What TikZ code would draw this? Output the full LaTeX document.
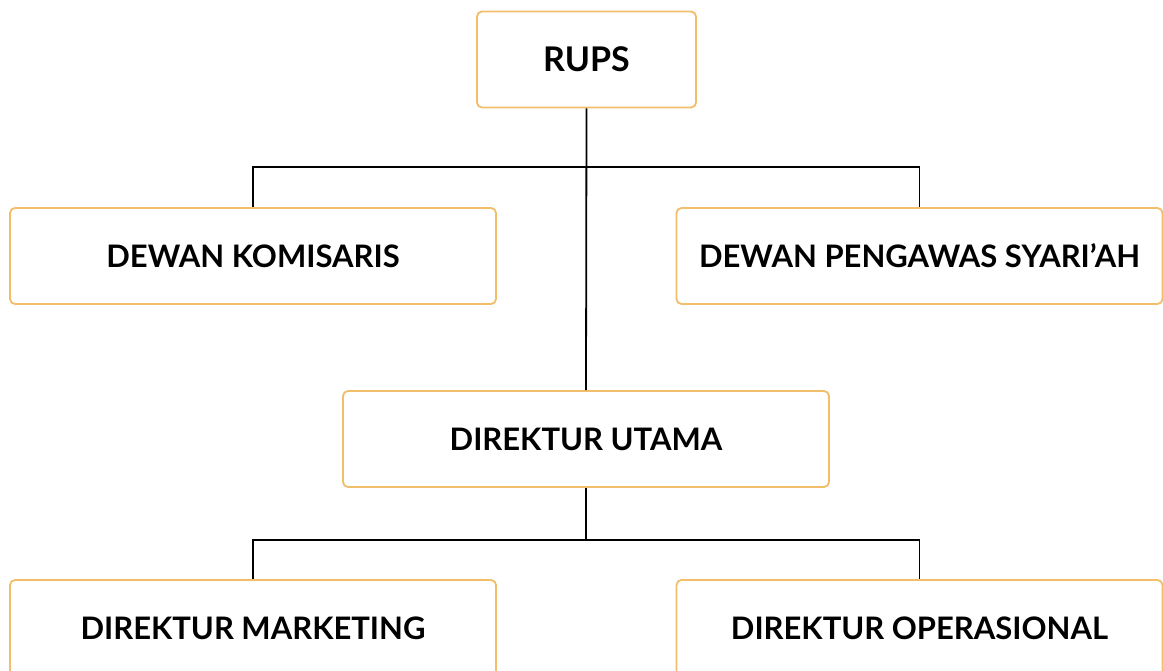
\documentclass[tikz,border=0pt]{standalone}
\usepackage{fontspec}
\setmainfont{Lato}
\usetikzlibrary{positioning}
\definecolor{boxorange}{HTML}{F2BE6A}

\begin{document}
\begin{tikzpicture}[x=1pt, y=-1pt,
    orgbox/.style={draw=boxorange, line width=1.8pt, rounded corners=5pt, fill=white,
      minimum height=96pt, inner sep=0pt, font=\fontsize{31}{36}\selectfont\bfseries},
    wide/.style={orgbox, minimum width=486pt},
    link/.style={draw=black, line width=1.8pt}]

      \clip (0,0) rectangle (1163,671);
      \fill[white] (0,0) rectangle (1163,671);

      % boxes
      \node[orgbox, minimum width=219pt, font=\fontsize{34}{40}\selectfont\bfseries] (rups) at (586.5,59.5) {RUPS};
      \node[wide] (komisaris) at (253,256) {DEWAN KOMISARIS};
      \node[wide] (syariah)   at (919.5,256) {DEWAN PENGAWAS SYARI’AH};
      \node[wide] (utama)     at (586,439) {DIREKTUR UTAMA};
      \node[wide] (marketing) at (253,628) {DIREKTUR MARKETING};
      \node[wide] (operasi)   at (919.5,628) {DIREKTUR OPERASIONAL};

      % junctions
      \coordinate (j1) at (586,167);
      \coordinate (j2) at (586,540);

      % connectors
      \draw[link] (rups.south) -- (utama.north);
      \draw[link] (komisaris.north) |- (j1) -| (syariah.north);
      \draw[link] (utama.south) -- (j2);
      \draw[link] (marketing.north) |- (j2) -| (operasi.north);
\end{tikzpicture}
\end{document}
